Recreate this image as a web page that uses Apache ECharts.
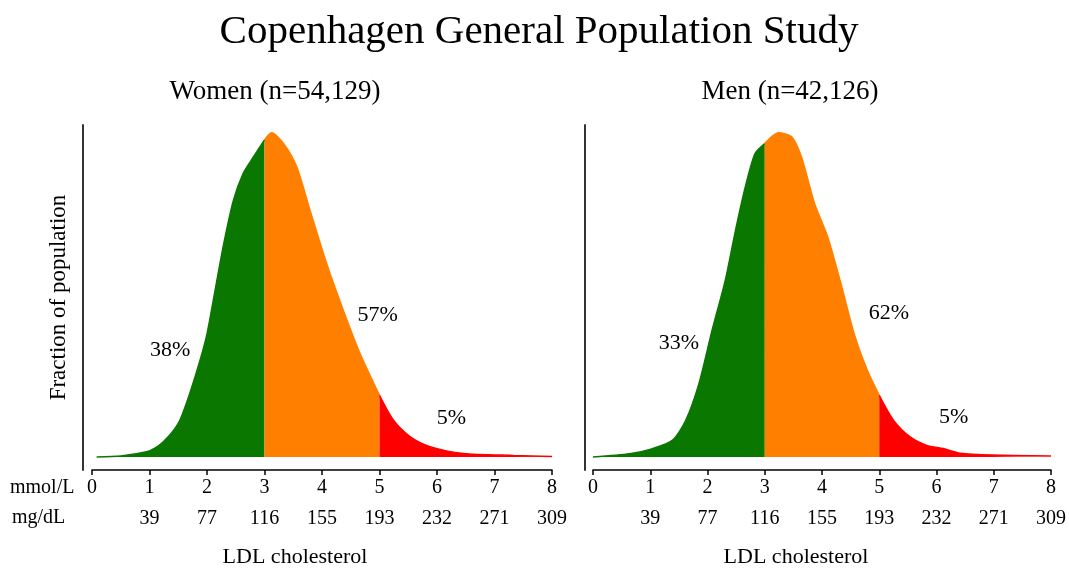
<!DOCTYPE html>
<html>
<head>
<meta charset="utf-8">
<script src="https://cdn.jsdelivr.net/npm/echarts@6/dist/echarts.min.js"></script>
<style>
html,body{margin:0;padding:0;background:#fff;}
#chart{width:1069px;height:568px;}
</style>
</head>
<body>
<div id="chart"></div>
<script>
// ---- data ----
var mmolTicks = [0, 1, 2, 3, 4, 5, 6, 7, 8];
var mgTicks = ['', '39', '77', '116', '155', '193', '232', '271', '309'];
var cutLow = 3;
var cutHigh = 5;
// LDL (mmol/L) and relative density (peak = 100)
var womenX = [0.08, 0.5, 0.95, 1.1, 1.24, 1.4, 1.53, 1.7, 1.88, 2.0, 2.11, 2.28, 2.46, 2.63, 2.81, 3.0, 3.125, 3.33, 3.56, 3.79, 4.08, 4.37, 4.66, 5.0, 5.24, 5.53, 5.88, 6.46, 7.33, 8.0];
var womenY = [0, 0.3, 1.6, 2.8, 4.7, 7.8, 11.4, 19.6, 29.9, 38, 48.4, 64.8, 79.2, 87.5, 92.6, 97.8, 100, 96.7, 89.5, 76.2, 59.7, 45.3, 32.0, 19.0, 11.4, 6.3, 3.2, 1.1, 0.5, 0.2];
var menX = [0.0, 0.64, 1.04, 1.39, 1.62, 1.85, 2.08, 2.31, 2.49, 2.66, 2.83, 3.0, 3.24, 3.47, 3.64, 3.87, 4.10, 4.33, 4.56, 4.79, 5.0, 5.25, 5.54, 5.83, 6.12, 6.41, 6.98, 8.0];
var menY = [0, 1.0, 2.6, 5.2, 11.3, 22.6, 39.1, 54.5, 70.0, 83.3, 93.6, 96.7, 100, 98.8, 92.6, 78.2, 67.9, 53.5, 38.1, 26.8, 19.0, 11.3, 6.2, 3.6, 2.6, 1.2, 0.6, 0.3];
var womenPct = ['38%', '57%', '5%'];
var menPct = ['33%', '62%', '5%'];
var womenPctPos = [[1.36, 33], [4.97, 43.8], [6.25, 12]];
var menPctPos = [[1.5, 35], [5.17, 44.4], [6.3, 12.3]];
var panelTitles = ['Women (n=54,129)', 'Men (n=42,126)'];

// ---- chart ----
var FONT = "'Liberation Serif', 'Times New Roman', serif";
var colors = ['#0a7800', '#ff8000', '#ff0000'];

function segment(xs, ys, lo, hi) {
  var out = [];
  for (var i = 0; i < xs.length; i++) {
    if (xs[i] >= lo && xs[i] <= hi) out.push([xs[i], ys[i]]);
  }
  return out;
}

function panelSeries(xs, ys, pct, pctPos, gi) {
  var ranges = [[-1, cutLow], [cutLow, cutHigh], [cutHigh, 99]];
  return ranges.map(function (r, k) {
    return {
      type: 'line',
      xAxisIndex: gi, yAxisIndex: gi,
      data: segment(xs, ys, r[0], r[1]),
      smooth: 0.25,
      symbol: 'none',
      lineStyle: { color: colors[k], width: 1.5 },
      areaStyle: { color: colors[k], opacity: 1 },
      silent: true,
      z: 2,
      markPoint: {
        symbol: 'circle', symbolSize: 0,
        data: [{ coord: pctPos[k], value: pct[k] }],
        label: { show: true, position: 'inside', formatter: pct[k], color: '#000', fontFamily: FONT, fontSize: 22 }
      }
    };
  });
}

function xAxisCfg(gi) {
  return {
    type: 'value', gridIndex: gi, min: 0, max: 8, interval: 1,
    axisLine: { onZero: false, lineStyle: { color: '#000', width: 1.5 } },
    axisTick: { show: true, inside: false, length: 5, lineStyle: { color: '#000', width: 1.5 } },
    splitLine: { show: false },
    axisLabel: {
      margin: 7,
      formatter: function (v) {
        var idx = mmolTicks.indexOf(v);
        return '{a|' + v + '}\n{b|' + (idx >= 0 ? mgTicks[idx] : '') + '}';
      },
      rich: {
        a: { fontFamily: FONT, fontSize: 20, color: '#000', lineHeight: 22 },
        b: { fontFamily: FONT, fontSize: 20, color: '#000', lineHeight: 40 }
      }
    }
  };
}

function yAxisCfg(gi, name) {
  return {
    type: 'value', gridIndex: gi, min: -4, max: 102.4,
    offset: gi === 0 ? 9 : 8,
    name: name, nameLocation: 'middle', nameRotate: 90, nameGap: 13,
    nameTextStyle: { fontFamily: FONT, fontSize: 23, color: '#000' },
    axisLine: { show: true, onZero: false, lineStyle: { color: '#333', width: 2 } },
    axisTick: { show: false },
    axisLabel: { show: false },
    splitLine: { show: false }
  };
}

var chart = echarts.init(document.getElementById('chart'), null, { renderer: 'canvas' });
chart.setOption({
  backgroundColor: '#fff',
  animation: false,
  grid: [
    { left: 92, right: 517, top: 125, bottom: 98 },
    { left: 593, right: 13, top: 125, bottom: 98 }
  ],
  xAxis: [xAxisCfg(0), xAxisCfg(1)],
  yAxis: [yAxisCfg(0, 'Fraction of population'), yAxisCfg(1, '')],
  series: panelSeries(womenX, womenY, womenPct, womenPctPos, 0)
    .concat(panelSeries(menX, menY, menPct, menPctPos, 1)),
  graphic: [
    { type: 'text', x: 539, y: 32, style: { text: 'Copenhagen General Population Study', font: '41px ' + FONT, fill: '#000', textAlign: 'center', textVerticalAlign: 'middle' } },
    { type: 'text', x: 275, y: 92, style: { text: panelTitles[0], font: '27px ' + FONT, fill: '#000', textAlign: 'center', textVerticalAlign: 'middle' } },
    { type: 'text', x: 790, y: 92, style: { text: panelTitles[1], font: '27px ' + FONT, fill: '#000', textAlign: 'center', textVerticalAlign: 'middle' } },
    { type: 'text', x: 10, y: 488, style: { text: 'mmol/L', font: '20px ' + FONT, fill: '#000', textAlign: 'left', textVerticalAlign: 'middle' } },
    { type: 'text', x: 12, y: 518, style: { text: 'mg/dL', font: '20px ' + FONT, fill: '#000', textAlign: 'left', textVerticalAlign: 'middle' } },
    { type: 'text', x: 295, y: 557, style: { text: 'LDL cholesterol', font: '22px ' + FONT, fill: '#000', textAlign: 'center', textVerticalAlign: 'middle' } },
    { type: 'text', x: 796, y: 557, style: { text: 'LDL cholesterol', font: '22px ' + FONT, fill: '#000', textAlign: 'center', textVerticalAlign: 'middle' } }
  ]
});
</script>
</body>
</html>
